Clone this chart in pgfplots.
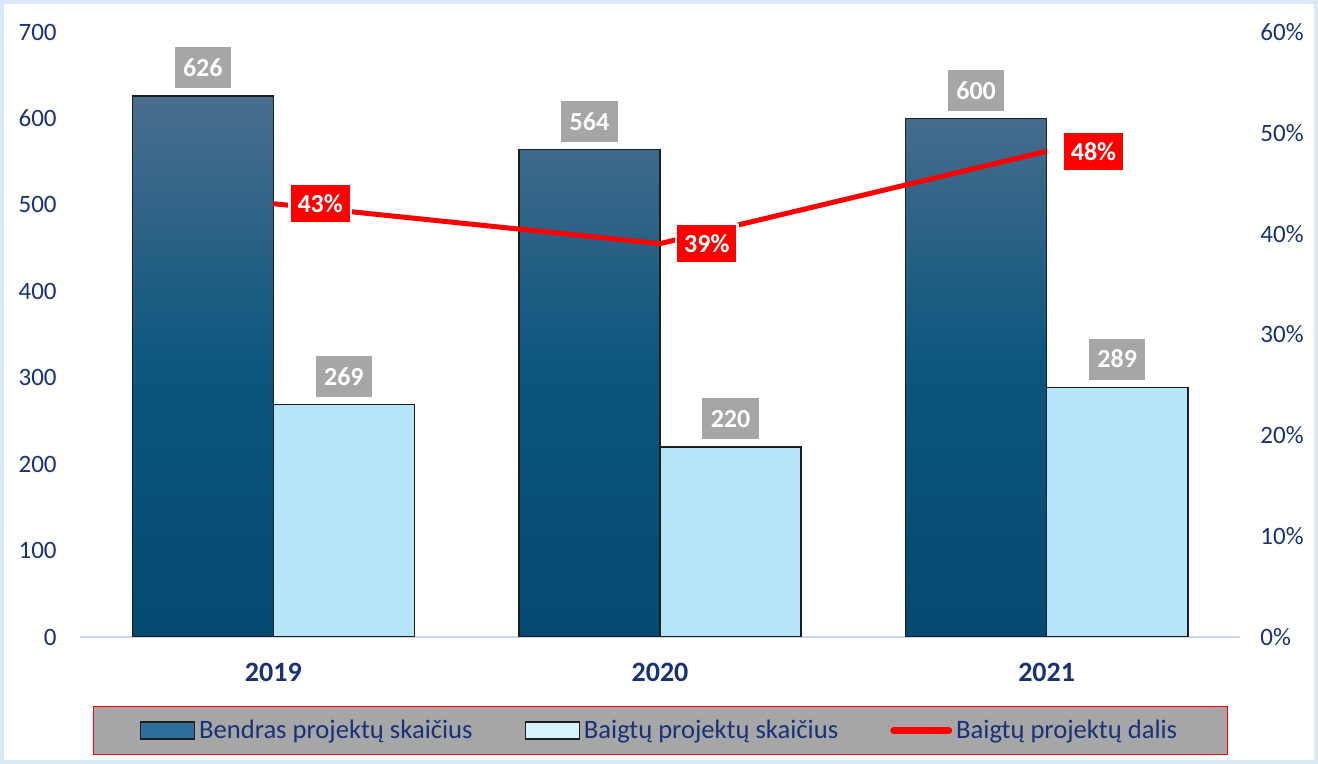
\documentclass[border=0pt]{standalone}
\usepackage{fontspec}
\setmainfont{Carlito}
\usepackage{pgfplots}
\pgfplotsset{compat=1.18}
\definecolor{tickblue}{RGB}{24,50,120}
\definecolor{darktop}{RGB}{74,110,142}
\definecolor{darkmid}{RGB}{12,86,126}
\definecolor{darkbot}{RGB}{4,74,112}
\definecolor{lightbar}{RGB}{182,229,250}
\definecolor{labelgray}{RGB}{166,166,166}
\definecolor{framecol}{RGB}{218,232,246}
\definecolor{axiscol}{RGB}{200,212,238}
\definecolor{bardraw}{RGB}{30,30,30}
\definecolor{legdark}{RGB}{45,110,155}
\definecolor{leglight}{RGB}{215,243,253}
\newcommand{\fs}{\fontsize{12.5}{15}\selectfont}
\newcommand{\fl}{\fontsize{13.3}{16}\selectfont}
\newcommand{\fb}{\fontsize{13}{15}\selectfont}
\begin{document}
\begin{tikzpicture}
\fill[white] (0,0) rectangle (659pt,382pt);
\draw[framecol, line width=2pt] (1pt,1pt) rectangle (658pt,381pt);
\pgfplotsset{
  base/.style={scale only axis, width=580pt, height=302.5pt,
    at={(40pt,63.5pt)}, anchor=south west,
    xmin=-0.5, xmax=2.5, ymin=0, major tick length=0pt,
    /pgf/number format/assume math mode=true,
    tick label style={font=\fs, text=tickblue}}
}
\begin{axis}[base, ymax=700, ytick={0,100,...,700},
  xtick={0,1,2}, xticklabels={2019,2020,2021},
  xticklabel style={font=\fontsize{14}{16}\selectfont\bfseries, anchor=north, inner sep=0pt, yshift=-13pt},
  yticklabel style={anchor=east, inner sep=0pt, xshift=-11.5pt},
  axis x line*=bottom, axis y line*=left,
  y axis line style={draw=none},
  x axis line style={draw=axiscol, line width=1pt, -},
  ybar, bar width=0.365,
  nodes near coords,
  every node near coord/.append style={fill=labelgray, text=white, font=\fb\bfseries,
     anchor=south, yshift=3.5pt, inner xsep=4.2pt, minimum height=20.5pt},
  /pgf/number format/1000 sep={}]
\addplot[ybar, bar shift=-0.1825, draw=bardraw, line width=0.7pt,
  top color=darktop, bottom color=darkbot, middle color=darkmid]
  coordinates {(0,626) (1,564) (2,600)};
\addplot[ybar, bar shift=0.1825, draw=bardraw, line width=0.7pt, fill=lightbar]
  coordinates {(0,269) (1,220) (2,289)};
\end{axis}
\begin{axis}[base, ymax=60, ytick={0,10,...,60},
  yticklabel={\pgfmathprintnumber{\tick}\%},
  yticklabel style={anchor=west, inner sep=0pt, xshift=10pt},
  axis y line*=right, axis x line=none,
  y axis line style={draw=none},
  legend columns=3,
  legend style={at={(axis description cs:0.5004,-0.1545)}, anchor=center,
    draw=red, line width=0.6pt, fill=labelgray, font=\fl, text=tickblue,
    inner xsep=23pt, inner ysep=4.5pt,
    /tikz/every even column/.append style={column sep=24pt}},
  legend cell align=left]
\addlegendimage{legend image code/.code={\draw[bardraw, line width=0.7pt, fill=legdark] (0pt,-4.25pt) rectangle (27pt,4.25pt);}}
\addlegendentry{Bendras projektų skaičius}
\addlegendimage{legend image code/.code={\draw[bardraw, line width=0.7pt, fill=leglight] (0pt,-4.25pt) rectangle (27pt,4.25pt);}}
\addlegendentry{Baigtų projektų skaičius}
\addplot[red, line width=2.5pt, mark=none, line join=round,
  nodes near coords={\pgfmathprintnumber[fixed, precision=0]{\pgfplotspointmeta}\%},
  every node near coord/.append style={fill=red, draw=white, line width=1.2pt, text=white,
     font=\fb\bfseries, anchor=west, xshift=7.5pt, inner xsep=4pt, minimum height=19.5pt},
  legend image code/.code={\draw[red, line width=3.5pt, line cap=round] (0pt,0pt) -- (27.5pt,0pt);}]
  coordinates {(0,42.97) (1,39.01) (2,48.17)};
\addlegendentry{Baigtų projektų dalis}
\end{axis}
\pgfresetboundingbox
\useasboundingbox (0,0) rectangle (659pt,382pt);
\end{tikzpicture}
\end{document}
